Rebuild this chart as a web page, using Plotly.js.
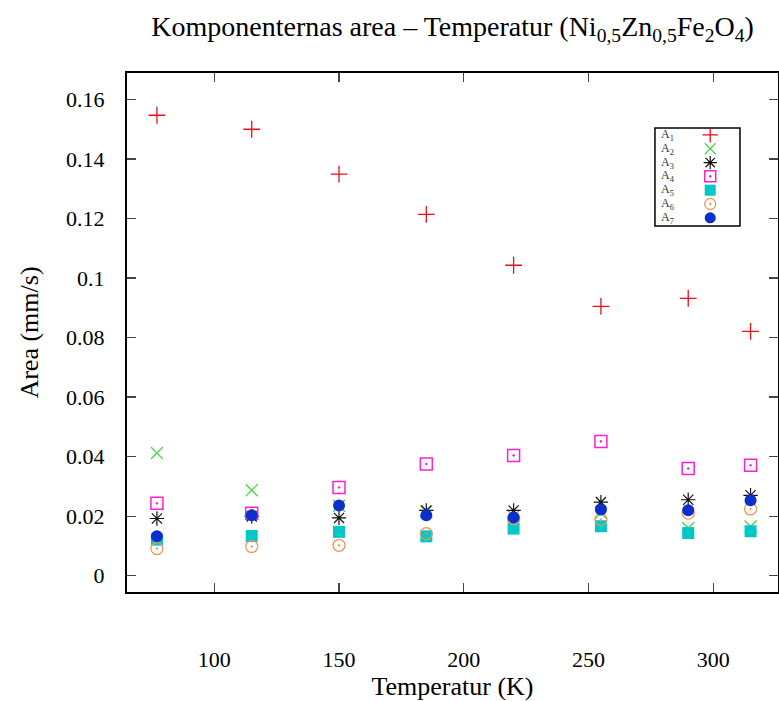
<!DOCTYPE html>
<html>
<head>
<meta charset="utf-8">
<script src="https://cdn.plot.ly/plotly-3.0.1.min.js"></script>
<style>html,body{margin:0;padding:0;background:#fff;}#chart{width:779px;height:701px;}</style>
</head>
<body>
<div id="chart"></div>
<script>
const temperature = [77, 115, 150, 185, 220, 255, 290, 315];
const A1 = [0.1547, 0.1500, 0.1349, 0.1214, 0.1043, 0.0905, 0.0932, 0.0821];
const A2 = [0.0412, 0.0287, 0.0235, 0.0215, 0.0200, 0.0210, 0.0160, 0.0165];
const A3 = [0.0192, 0.0199, 0.0194, 0.0219, 0.0219, 0.0247, 0.0255, 0.0270];
const A4 = [0.0243, 0.0210, 0.0296, 0.0375, 0.0404, 0.0451, 0.0360, 0.0371];
const A5 = [0.0121, 0.0133, 0.0147, 0.0132, 0.0158, 0.0166, 0.0143, 0.0149];
const A6 = [0.0091, 0.0098, 0.0102, 0.0141, 0.0192, 0.0189, 0.0210, 0.0224];
const A7 = [0.0132, 0.0203, 0.0236, 0.0203, 0.0195, 0.0222, 0.0220, 0.0253];
const names = ['A<sub>1</sub>','A<sub>2</sub>','A<sub>3</sub>','A<sub>4</sub>','A<sub>5</sub>','A<sub>6</sub>','A<sub>7</sub>'];
const xTicks = [100, 150, 200, 250, 300];
const yTicks = [0, 0.02, 0.04, 0.06, 0.08, 0.1, 0.12, 0.14, 0.16];
const yTickText = ['0', '0.02', '0.04', '0.06', '0.08', '0.1', '0.12', '0.14', '0.16'];

const series = [A1, A2, A3, A4, A5, A6, A7];
const styles = [
  {symbol: 'cross-thin-open', color: '#e8101a', size: 12, lw: 1.3},
  {symbol: 'x-thin-open', color: '#4cd44c', size: 12, lw: 1.3},
  {symbol: 'asterisk-open', color: '#111111', size: 12, lw: 1.2},
  {symbol: 'square-open-dot', color: '#ff22cc', size: 12, lw: 1.5},
  {symbol: 'square', color: '#00c8c8', size: 12, lw: 0},
  {symbol: 'circle-open-dot', color: '#f0955a', size: 12, lw: 1.3},
  {symbol: 'circle', color: '#0a2fcc', size: 12, lw: 0}
];

const traces = series.map((s, i) => ({
  x: temperature, y: s, name: names[i], type: 'scatter', mode: 'markers', showlegend: false,
  xaxis: 'x', yaxis: 'y',
  marker: {symbol: styles[i].symbol, color: styles[i].color, size: styles[i].size,
           line: {color: styles[i].color, width: styles[i].lw}}
}));

// legend keys: one marker per series on a hidden key axis (row = series index)
const keyRows = names.map((n, i) => i);
keyRows.forEach(i => {
  traces.push({
    x: [0.65], y: [i], type: 'scatter', mode: 'markers', showlegend: false, hoverinfo: 'skip',
    xaxis: 'x2', yaxis: 'y2',
    marker: {symbol: styles[i].symbol, color: styles[i].color, size: 11,
             line: {color: styles[i].color, width: styles[i].lw}}
  });
});

const font = 'Liberation Serif, Times New Roman, serif';
const legX0 = 0.811, legX1 = 0.9416, legY0 = 0.705, legY1 = 0.894;
const annotations = keyRows.map(i => ({
  xref: 'x2', yref: 'y2', x: 0.05, y: i, text: names[i], showarrow: false,
  xanchor: 'left', yanchor: 'middle', font: {family: font, size: 12, color: '#333'}
}));

const layout = {
  width: 779, height: 701,
  margin: {l: 127, r: 1, t: 73, b: 109},
  paper_bgcolor: '#fff', plot_bgcolor: 'rgba(0,0,0,0)',
  font: {family: font, color: '#000', size: 22},
  title: {text: 'Komponenternas area – Temperatur (Ni<sub>0,5</sub>Zn<sub>0,5</sub>Fe<sub>2</sub>O<sub>4</sub>)',
          x: 0.581, xanchor: 'center', y: 0.963, yanchor: 'middle', font: {family: font, size: 28, color: '#000'}},
  xaxis: {domain: [0, 1], range: [65, 326], tickvals: xTicks, ticks: 'inside', ticklen: 9, tickwidth: 1.2,
          showline: true, linewidth: 2, linecolor: '#000', mirror: 'allticks', showgrid: false, zeroline: false,
          ticklabelstandoff: 47, tickfont: {family: font, size: 22, color: '#000'},
          title: {text: 'Temperatur (K)', standoff: 28, font: {family: font, size: 26, color: '#000'}}},
  yaxis: {domain: [0, 1], range: [-0.0055, 0.1689], tickvals: yTicks, ticktext: yTickText, ticks: 'inside', ticklen: 9, tickwidth: 1.2,
          showline: true, linewidth: 2, linecolor: '#000', mirror: 'allticks', showgrid: false, zeroline: false,
          ticklabelstandoff: 16, tickfont: {family: font, size: 22, color: '#000'},
          title: {text: 'Area (mm/s)', standoff: 20, font: {family: font, size: 26, color: '#000'}}},
  xaxis2: {domain: [legX0, legX1], anchor: 'y2', range: [0, 1], visible: false, fixedrange: true},
  yaxis2: {domain: [legY0, legY1], anchor: 'x2', range: [6.6, -0.5], visible: false, fixedrange: true},
  showlegend: false,
  shapes: [{type: 'rect', xref: 'paper', yref: 'paper', x0: legX0, x1: legX1, y0: legY0, y1: legY1,
            line: {color: '#000', width: 1.5}, fillcolor: '#fff', layer: 'below'}],
  annotations: annotations
};
Plotly.newPlot('chart', traces, layout, {displayModeBar: false, staticPlot: true});
</script>
</body>
</html>
